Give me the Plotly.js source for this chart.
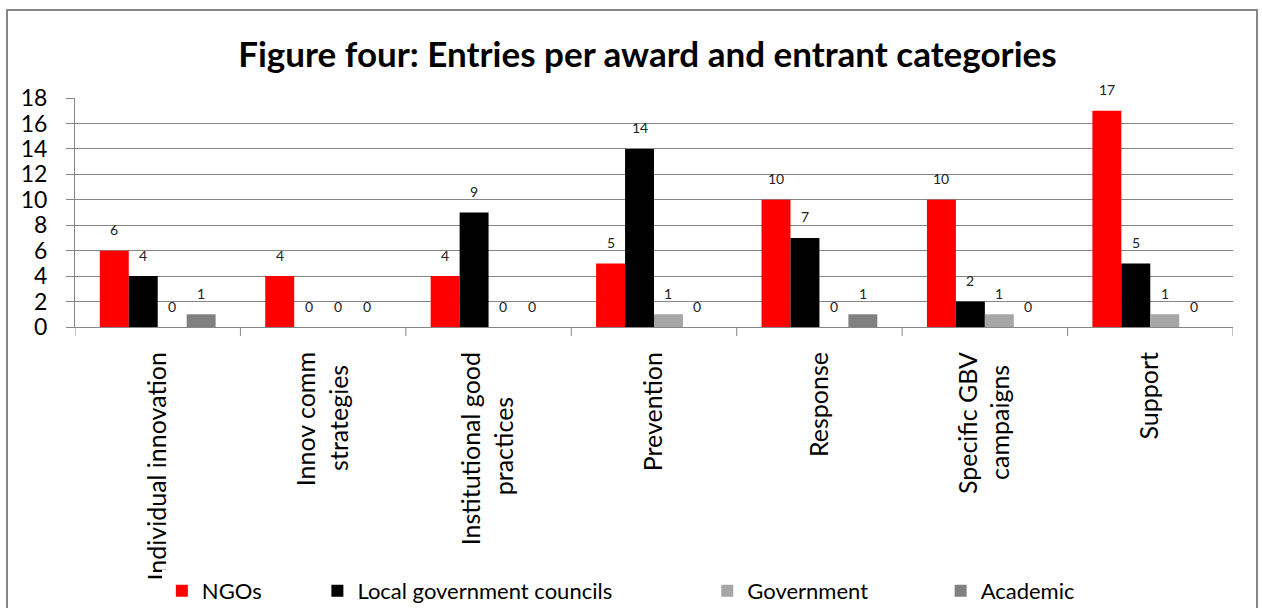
<!DOCTYPE html>
<html>
<head>
<meta charset="utf-8">
<script src="https://cdn.plot.ly/plotly-3.0.1.min.js"></script>
<style>html,body{margin:0;padding:0;background:#fff;}#chart{width:1262px;height:608px;}</style>
</head>
<body>
<div id="chart"></div>
<script>
const categories = ["Individual innovation", "Innov comm<br>strategies", "Institutional good<br>practices", "Prevention", "Response", "Specific GBV<br>campaigns", "Support"];
const seriesNames = ["NGOs", "Local government councils", "Government", "Academic"];
const ngos = [6, 4, 4, 5, 10, 10, 17];
const localCouncils = [4, 0, 9, 14, 7, 2, 5];
const government = [0, 0, 0, 1, 0, 1, 1];
const academic = [1, 0, 0, 0, 1, 0, 0];
const yTicks = [0, 2, 4, 6, 8, 10, 12, 14, 16, 18];

const seriesValues = [ngos, localCouncils, government, academic];
const colors = ["#FF0000", "#000000", "#A6A6A6", "#808080"];
const nb = n => "\u00a0".repeat(Math.max(0, n));
const legendPad = [nb(9), nb(16), nb(12), ""];
const FONT = "Lato, 'Open Sans', sans-serif";
const CAT_SIZE = 25;

// centre multi-line category labels (rotated labels are end-anchored)
const ctx = document.createElement("canvas").getContext("2d");
ctx.font = CAT_SIZE + "px Lato";
const nbspW = ctx.measureText("\u00a0").width || 6;
const tickText = categories.map(c => {
  const lines = c.split("<br>");
  if (lines.length < 2) return c;
  const widths = lines.map(l => ctx.measureText(l).width);
  const maxW = Math.max(...widths);
  return lines.map((l, k) => l + nb(Math.round((maxW - widths[k]) / 2 / nbspW))).join("<br>");
});

const nCat = categories.length;
const xIdx = categories.map((c, i) => i);

const traces = seriesValues.map((vals, s) => ({
  type: "bar",
  name: seriesNames[s] + legendPad[s],
  x: xIdx,
  y: vals,
  marker: {color: colors[s], line: {width: 0}},
  hoverinfo: "y"
}));

const groupGap = 0.3;
const barW = (1 - groupGap) / seriesValues.length;
const annotations = [];
seriesValues.forEach((vals, s) => {
  const off = -(1 - groupGap) / 2 + barW * (s + 0.5);
  vals.forEach((v, i) => {
    annotations.push({
      x: i + off, y: v, xref: "x", yref: "y",
      text: String(v), showarrow: false,
      yanchor: "middle", yshift: 21,
      font: {family: FONT, size: 14, color: "#222"}
    });
  });
});

const L = 75, R = 29, T = 98, B = 281;
const W = 1262, H = 608;
const pw = W - L - R, ph = H - T - B;
const px = v => (v - L) / pw;
const py = v => (H - B - v) / ph;

const layout = {
  width: W, height: H,
  margin: {l: L, r: R, t: T, b: B, autoexpand: false},
  paper_bgcolor: "#fff", plot_bgcolor: "#fff",
  font: {family: FONT, color: "#000"},
  title: {text: "<b>Figure four: Entries per award and entrant categories</b>",
          font: {family: FONT, size: 35, color: "#000"},
          x: 0.513, xanchor: "center", y: 0.91, yanchor: "middle"},
  barmode: "group", bargap: groupGap, bargroupgap: 0,
  showlegend: true,
  legend: {orientation: "h", x: 0.075, xanchor: "left", xref: "paper",
           yref: "container", y: (H - 591) / H, yanchor: "middle",
           font: {family: FONT, size: 22, color: "#000"}, itemwidth: 30, tracegroupgap: 0},
  xaxis: {
    type: "linear", range: [-0.5, nCat - 0.5], automargin: false,
    tickmode: "array", tickvals: xIdx, ticktext: tickText,
    tickangle: -90, showgrid: false, zeroline: false,
    showline: true, linecolor: "#868686", linewidth: 1,
    ticks: "", tickfont: {family: FONT, size: CAT_SIZE, color: "#000"},
    ticklabelstandoff: 14
  },
  yaxis: {
    range: [0, 18], tickmode: "array", tickvals: yTicks, automargin: false,
    showgrid: true, gridcolor: "#868686", gridwidth: 1,
    zeroline: false, showline: true, linecolor: "#868686", linewidth: 1,
    ticks: "outside", ticklen: 8, tickcolor: "#868686",
    tickfont: {family: FONT, size: 23, color: "#000"},
    ticklabelstandoff: 14
  },
  annotations: annotations,
  shapes: [
    {type: "rect", xref: "paper", yref: "paper",
     x0: px(7), x1: px(1257), y0: py(640), y1: py(10),
     line: {color: "#868686", width: 2}, fillcolor: "rgba(0,0,0,0)", layer: "below"}
  ].concat(xIdx.concat([nCat]).map(i => ({
    type: "line", xref: "x", yref: "paper",
    x0: i - 0.5, x1: i - 0.5, y0: 0, y1: -9 / ph,
    line: {color: "#868686", width: 1}
  })))
};

Plotly.newPlot("chart", traces, layout, {displayModeBar: false, staticPlot: true});
</script>
</body>
</html>
